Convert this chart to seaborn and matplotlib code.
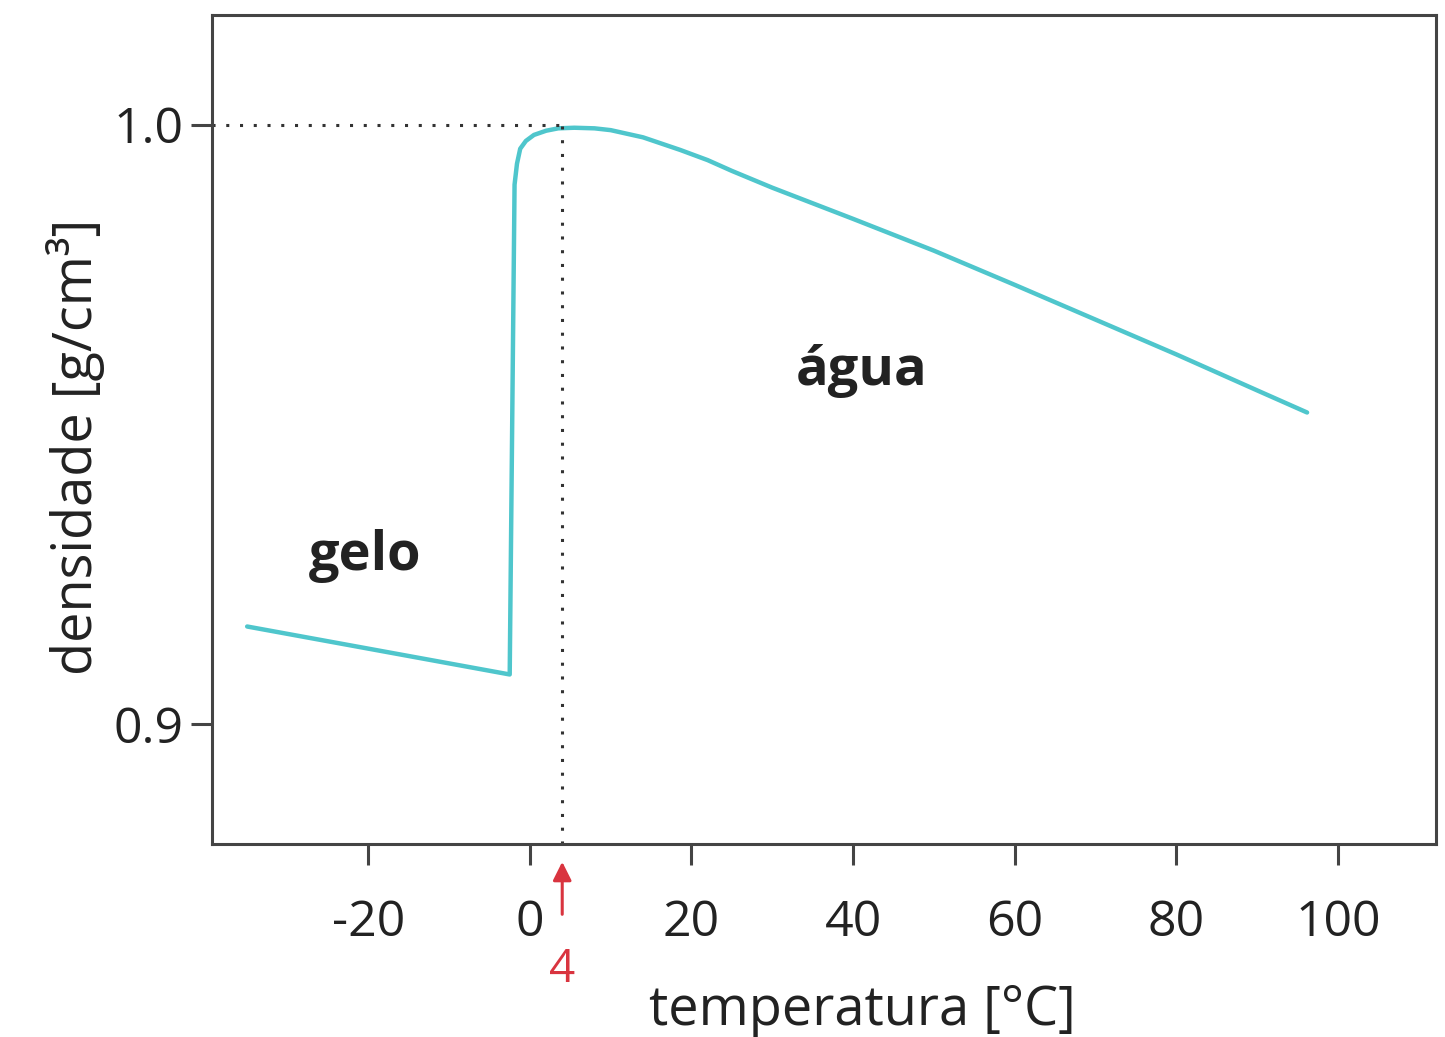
import numpy as np
import pandas as pd
import matplotlib
matplotlib.use("Agg")
import matplotlib.pyplot as plt
import seaborn as sns

# Density of water / ice vs temperature
temperature = [-35, -2.5, -1.9, -1.6, -1.2, -0.5, 0.5, 2.0, 3.5, 5.5, 8.0,
               10.0, 14.0, 18.6, 22.0, 25.0, 30.0, 40.0, 50.0, 60.0, 70.0,
               80.0, 90.0, 96.2]
density = [0.9163, 0.9083, 0.9900, 0.9935, 0.9960, 0.9973, 0.9983, 0.9990,
           0.9994, 0.9995, 0.9994, 0.9991, 0.9979, 0.9958, 0.9941, 0.9923,
           0.9895, 0.9843, 0.9790, 0.9733, 0.9675, 0.9617, 0.9557, 0.9520]

max_temp = 4
max_density = 1.0
x_ticks = [-20, 0, 20, 40, 60, 80, 100]
y_ticks = [0.9, 1.0]
y_ticklabels = ["0.9", "1.0"]

df = pd.DataFrame({"temperatura": temperature, "densidade": density})

sns.set_style("ticks")
plt.rcParams["font.family"] = ["Open Sans", "DejaVu Sans"]
plt.rcParams["axes.unicode_minus"] = False

fig = plt.figure(figsize=(14.45, 10.37), dpi=100)
ax = fig.add_axes([0.147, 0.186, 0.847, 0.7995])

sns.lineplot(data=df, x="temperatura", y="densidade", ax=ax, sort=False,
             color="#4fc6cc", linewidth=3.2)

xmin, xmax = -39.3, 112.2
ymin, ymax = 0.88, 1.0183
ax.set_xlim(xmin, xmax)
ax.set_ylim(ymin, ymax)

# dotted guide lines to the maximum density at 4 °C
dots = (0, (1, 3.5))
ax.plot([xmin, max_temp], [max_density, max_density], linestyle=dots,
        color="#333333", linewidth=2.2)
ax.plot([max_temp, max_temp], [ymin, max_density], linestyle=dots,
        color="#333333", linewidth=2.2)

ax.set_xticks(x_ticks)
ax.set_yticks(y_ticks)
ax.set_yticklabels(y_ticklabels)
ax.tick_params(axis="both", direction="out", length=15, width=2.2,
               color="#444444", labelsize=36, labelcolor="#222222")
ax.tick_params(axis="x", pad=24)
ax.tick_params(axis="y", pad=6)

for s in ax.spines.values():
    s.set_visible(True)
    s.set_linewidth(2.2)
    s.set_color("#444444")

ax.set_xlabel("temperatura [°C]", fontsize=39, color="#222222")
ax.xaxis.set_label_coords(0.531, -0.168)
ax.set_ylabel("densidade [g/cm³]", fontsize=39, color="#222222")
ax.yaxis.set_label_coords(-0.088, 0.479)

ax.text(-20.4, 0.928, "gelo", fontsize=39, fontweight="bold", ha="center",
        va="center", color="#222222")
ax.text(41, 0.959, "água", fontsize=39, fontweight="bold", ha="center",
        va="center", color="#222222")

# red arrow marking 4 °C
red = "#d9343f"
ax.annotate("", xy=(max_temp, -0.018), xytext=(max_temp, -0.088),
            xycoords=("data", "axes fraction"), textcoords=("data", "axes fraction"),
            arrowprops=dict(arrowstyle="-|>", color=red, lw=2.2, mutation_scale=28),
            annotation_clip=False)
ax.text(max_temp, -0.152, str(max_temp), transform=ax.get_xaxis_transform(),
        fontsize=33, color=red, ha="center", va="center")

fig.savefig("out.png", dpi=100)
